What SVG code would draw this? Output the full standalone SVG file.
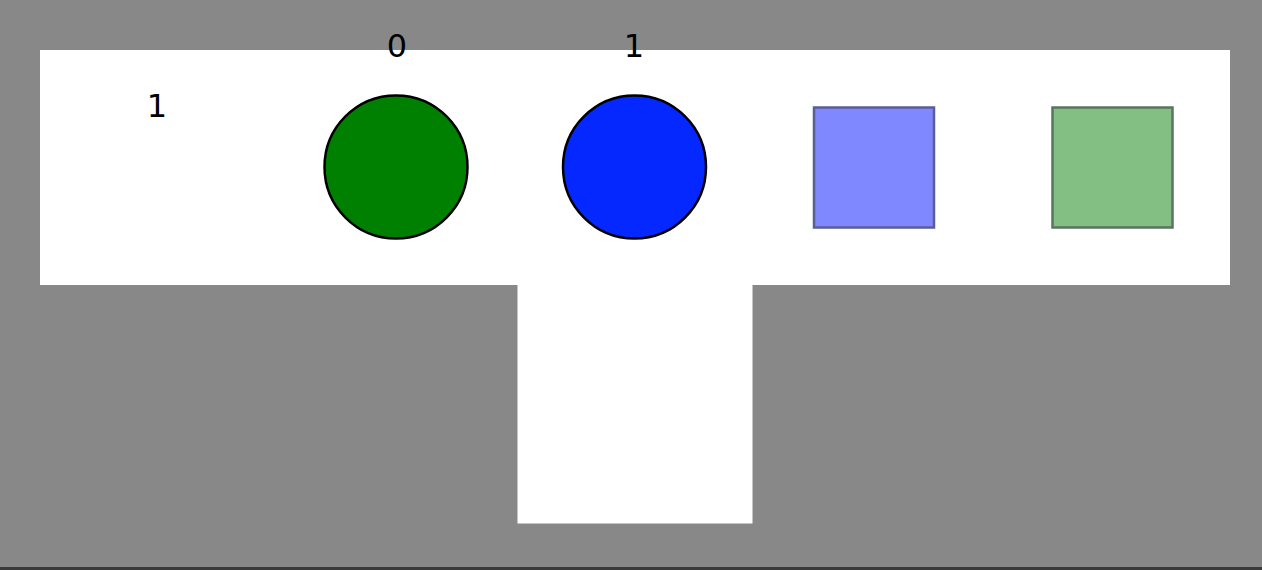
<svg xmlns="http://www.w3.org/2000/svg" width="1262" height="570" viewBox="0 0 1262 570">
  <style>
    .lbl { font-family: "DejaVu Sans", sans-serif; font-size: 32px; fill: #000; text-anchor: middle; }
    .circ { stroke: #000; stroke-width: 2.5; }
    .sq { stroke-width: 2.5; }
  </style>
  <rect x="0" y="0" width="1262" height="570" fill="#888888"/>
  <rect x="0" y="567" width="1262" height="3" fill="#3a3a3a"/>
  <g id="area">
    <path d="M40 50 H1230 V285 H752.5 V523.5 H517.5 V285 H40 Z" fill="#ffffff"/>
  </g>
  <g id="label-left">
    <text class="lbl" x="157" y="117">1</text>
  </g>
  <g id="node-green">
    <circle class="circ" cx="396" cy="167" r="71.5" fill="#008000"/>
    <text class="lbl" x="397" y="57">0</text>
  </g>
  <g id="node-blue">
    <circle class="circ" cx="634.5" cy="167" r="71.5" fill="#0428ff"/>
    <text class="lbl" x="634" y="57">1</text>
  </g>
  <g id="square-blue">
    <rect class="sq" x="814" y="107.5" width="120" height="120" fill="#8088ff" stroke="#5a5e94"/>
  </g>
  <g id="square-green">
    <rect class="sq" x="1052.5" y="107.5" width="120" height="120" fill="#83bf83" stroke="#587560"/>
  </g>
  <g id="connectors"></g>
</svg>
